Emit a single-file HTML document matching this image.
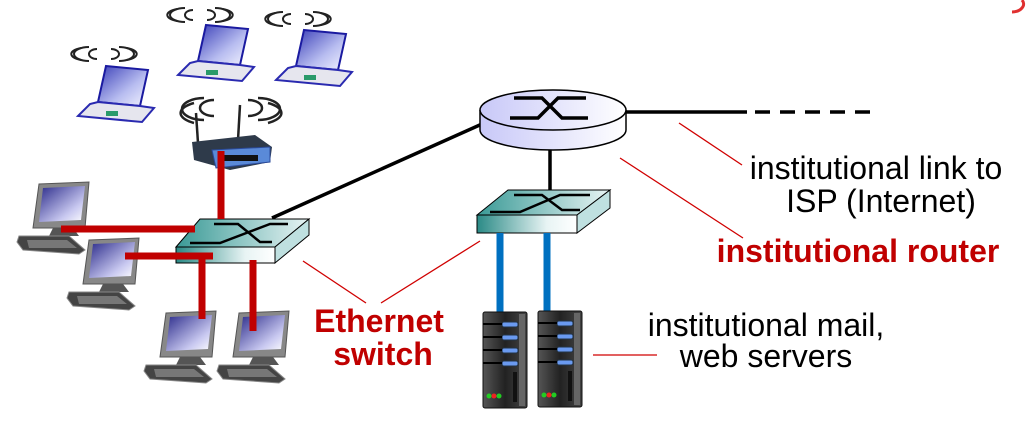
<!DOCTYPE html>
<html><head><meta charset="utf-8"><style>
html,body{margin:0;padding:0;background:#fff;width:1033px;height:422px;overflow:hidden}
svg{display:block}
text{font-family:"Liberation Sans",Arial,sans-serif}
</style></head><body>
<svg width="1033" height="422" viewBox="0 0 1033 422" xmlns="http://www.w3.org/2000/svg">
<defs>
<linearGradient id="scr" x1="0" y1="0" x2="1" y2="1"><stop offset="0" stop-color="#3a3fb8"/><stop offset="0.6" stop-color="#b8bdf0"/><stop offset="1" stop-color="#f4f4ff"/></linearGradient>
<linearGradient id="mon" x1="0" y1="0" x2="1" y2="1"><stop offset="0" stop-color="#2a2a8a"/><stop offset="0.7" stop-color="#c8c8f0"/><stop offset="1" stop-color="#fff"/></linearGradient>
<linearGradient id="swf" x1="0" y1="0" x2="1" y2="0"><stop offset="0" stop-color="#2a8a86"/><stop offset="0.7" stop-color="#e8f4f4"/><stop offset="1" stop-color="#fff"/></linearGradient>
<linearGradient id="swt" x1="0" y1="0" x2="1" y2="0"><stop offset="0" stop-color="#3a9a96"/><stop offset="1" stop-color="#e8f4f4"/></linearGradient>
<linearGradient id="rt" x1="0" y1="0" x2="1" y2="0"><stop offset="0" stop-color="#c8c8f8"/><stop offset="1" stop-color="#ffffff"/></linearGradient>
<linearGradient id="srv" x1="0" y1="0" x2="1" y2="0"><stop offset="0" stop-color="#555"/><stop offset="0.5" stop-color="#222"/><stop offset="1" stop-color="#444"/></linearGradient>
<g id="wifi" fill="none" stroke="#222" stroke-width="2">
<path d="M-7,-5 a8,5 0 0 0 0,10"/><path d="M-15,-7 a15,7 0 0 0 0,14"/><path d="M-23,-6 a20,7 0 0 0 0,12"/>
<path d="M7,-5 a8,5 0 0 1 0,10"/><path d="M15,-7 a15,7 0 0 1 0,14"/><path d="M23,-6 a20,7 0 0 1 0,12"/>
</g>
<g id="laptop">
<polygon points="10,0 52,4 44,40 2,36" fill="url(#scr)" stroke="#1a1aa0" stroke-width="2"/>
<polygon points="2,36 44,40 58,42 46,56 -18,50 -6,38" fill="#e6e6ee" stroke="#2a2ab0" stroke-width="2"/>
<rect x="10" y="45" width="12" height="5" fill="#2a9a6a"/>
</g>
<g id="pc">
<polygon points="6,0 56,-2 52,44 0,44" fill="#888" stroke="#555"/>
<polygon points="10,4 52,2 48,36 6,38" fill="url(#mon)"/>
<polygon points="20,44 40,44 46,52 16,52" fill="#555"/>
<polygon points="-14,52 36,52 52,66 46,70 -10,66 -16,58" fill="#444" stroke="#888"/>
<polygon points="-6,56 34,56 44,64 -4,64" fill="#777"/>
</g>
<g id="server">
<rect x="0" y="0" width="44" height="96" rx="2" fill="url(#srv)" stroke="#111"/>
<rect x="36" y="2" width="6" height="92" fill="#666"/>
<g fill="#6a9af0" stroke="#234">
<rect x="19" y="10" width="16" height="5" rx="2"/><rect x="19" y="23" width="16" height="5" rx="2"/>
<rect x="19" y="36" width="16" height="5" rx="2"/><rect x="19" y="49" width="16" height="5" rx="2"/>
</g>
<g stroke="#000" stroke-width="2"><line x1="0" y1="12" x2="19" y2="12"/><line x1="0" y1="25" x2="19" y2="25"/><line x1="0" y1="38" x2="19" y2="38"/><line x1="0" y1="51" x2="19" y2="51"/></g>
<rect x="30" y="60" width="4" height="30" fill="#111"/>
<circle cx="6" cy="84" r="2.5" fill="#2c2"/><circle cx="11" cy="84" r="2.5" fill="#e22"/><circle cx="16" cy="84" r="2.5" fill="#2c2"/>
</g>
</defs>

<use href="#laptop" x="96" y="66"/>
<use href="#wifi" x="104" y="54"/>
<use href="#laptop" x="196" y="25"/>
<use href="#wifi" x="200" y="15"/>
<use href="#laptop" x="294" y="30"/>
<use href="#wifi" x="298" y="19"/>

<g fill="none" stroke="#222" stroke-width="2.5">
<path d="M214,100 a14,8 0 0 0 0,16"/><path d="M204,98 a22,11 0 0 0 0,22"/><path d="M194,103 a30,12 0 0 0 0,20"/>
<path d="M248,100 a14,8 0 0 1 0,16"/><path d="M258,98 a22,11 0 0 1 0,22"/><path d="M268,103 a30,12 0 0 1 0,20"/>
</g>
<line x1="196" y1="113" x2="198" y2="143" stroke="#222" stroke-width="2.5"/>
<line x1="240" y1="105" x2="238" y2="140" stroke="#222" stroke-width="2.5"/>
<polygon points="192,142 255,135 272,147 270,162 230,170 194,160" fill="#2e3a4a"/>
<polygon points="212,150 270,147 270,162 216,168" fill="#5a8ad8" stroke="#2a4a9a"/>
<rect x="222" y="155" width="36" height="6" fill="#111"/>

<line x1="272" y1="218" x2="482" y2="124" stroke="#000" stroke-width="3.5"/>
<line x1="550" y1="148" x2="550" y2="190" stroke="#000" stroke-width="3.5"/>
<line x1="625" y1="112" x2="747" y2="112" stroke="#000" stroke-width="3.5"/>
<line x1="755" y1="112" x2="872" y2="112" stroke="#000" stroke-width="3.5" stroke-dasharray="15,10"/>

<path d="M480,110 v20 a73,20 0 0 0 146,0 v-20" fill="url(#rt)" stroke="#000" stroke-width="1.5"/>
<ellipse cx="553" cy="110" rx="73" ry="20" fill="url(#rt)" stroke="#000" stroke-width="1.5"/>
<path d="M514,98 h28 l20,20 h26 M510,118 h28 l20,-20 h28" fill="none" stroke="#000" stroke-width="3.5"/>

<use href="#pc" x="33" y="184"/>
<use href="#pc" x="83" y="240"/>
<use href="#pc" x="160" y="313"/>
<use href="#pc" x="233" y="313"/>

<polygon points="176,247 200,219 309,219 275,247" fill="url(#swt)" stroke="#000"/>
<polygon points="176,247 275,247 275,263 176,263" fill="url(#swf)" stroke="#000"/>
<polygon points="275,247 309,219 309,235 275,263" fill="#bfe0e0" stroke="#000"/>
<path d="M214,224 h24 l22,18 h12 M190,243 h30 l50,-19 h18" fill="none" stroke="#000" stroke-width="2.5"/>

<polygon points="477,215 508,190 610,190 577,215" fill="url(#swt)" stroke="#000"/>
<polygon points="477,215 577,215 577,233 477,233" fill="url(#swf)" stroke="#000"/>
<polygon points="577,215 610,190 610,208 577,233" fill="#bfe0e0" stroke="#000"/>
<path d="M514,195 h28 l20,15 h18 M490,212 h30 l40,-17 h30" fill="none" stroke="#000" stroke-width="2.5"/>

<g stroke="#c00000" stroke-width="7">
<line x1="221" y1="151" x2="221" y2="219"/>
<line x1="61" y1="229" x2="195" y2="229"/>
<line x1="125" y1="256" x2="213" y2="256"/>
<line x1="202" y1="256" x2="202" y2="319"/>
<line x1="253" y1="260" x2="253" y2="331"/>
</g>
<g stroke="#0070c0" stroke-width="7">
<line x1="500" y1="233" x2="500" y2="317"/>
<line x1="547" y1="233" x2="547" y2="315"/>
</g>
<use href="#server" x="483" y="312"/>
<use href="#server" x="538" y="311"/>

<g stroke="#d00000" stroke-width="1.3">
<line x1="679" y1="123" x2="742" y2="165"/>
<line x1="620" y1="158" x2="743" y2="238"/>
<line x1="303" y1="261" x2="366" y2="303"/>
<line x1="381" y1="303" x2="480" y2="241"/>
<line x1="593" y1="355" x2="657" y2="355"/>
</g>

<g font-size="32">
<text x="876" y="179" text-anchor="middle" fill="#000">institutional link to</text>
<text x="881" y="212" text-anchor="middle" fill="#000">ISP (Internet)</text>
<text x="858" y="262" text-anchor="middle" fill="#c00000" font-weight="bold">institutional router</text>
<text x="379" y="332" text-anchor="middle" fill="#c00000" font-weight="bold">Ethernet</text>
<text x="383" y="365" text-anchor="middle" fill="#c00000" font-weight="bold">switch</text>
<text x="766" y="336" text-anchor="middle" fill="#000">institutional mail,</text>
<text x="766" y="367" text-anchor="middle" fill="#000">web servers</text>
</g>
<path d="M1022,0 a12,8 0 0 1 -10,12" fill="none" stroke="#e03030" stroke-width="3"/>
</svg>
</body></html>
